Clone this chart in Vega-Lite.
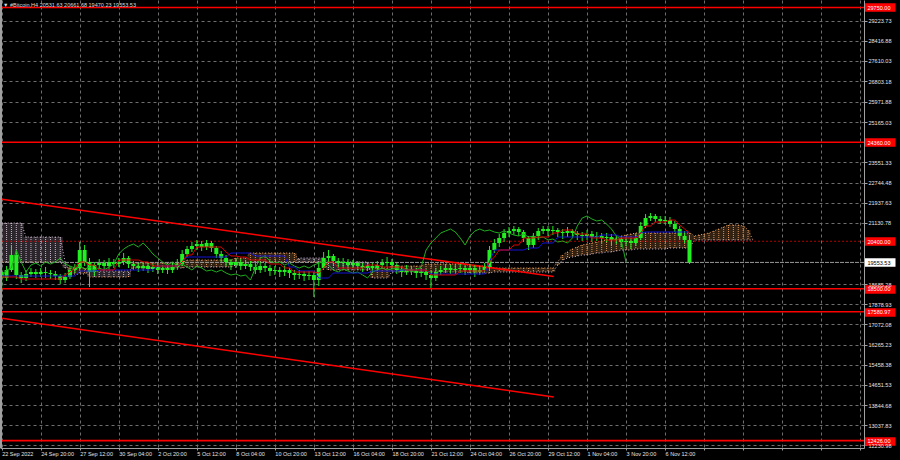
{
"$schema":"https://vega.github.io/schema/vega-lite/v6.json",
"width":900,"height":460,"autosize":{"type":"fit","contains":"padding"},
"padding":0,
"background":"#000000",
"config":{"view":{"stroke":null}},
"title":{"text":"▼ #Bitcoin,H4  20531.63 20661.68 19470.23 19553.53","anchor":"start","frame":"group","offset":-8,"fontSize":5.5,"font":"Liberation Sans","fontWeight":"normal","color":"#dcdcdc","dx":3},
"datasets":{
"rows":[
{"t":"2022-09-22T04:00","o":19170,"h":19330,"l":18450,"c":18930,"tk":18970,"kj":19010,"ch":18970,"a":19570,"b":21130},
{"t":"2022-09-22T12:00","o":18930,"h":19410,"l":18810,"c":19250,"tk":18970,"kj":19010,"ch":19250,"a":19570,"b":21130},
{"t":"2022-09-22T20:00","o":19250,"h":20250,"l":19170,"c":19850,"tk":18970,"kj":19010,"ch":19330,"a":19570,"b":21130},
{"t":"2022-09-23T04:00","o":19850,"h":19970,"l":18890,"c":19050,"tk":18970,"kj":19010,"ch":20050,"a":19570,"b":21130},
{"t":"2022-09-23T12:00","o":19050,"h":19170,"l":18730,"c":18930,"tk":18890,"kj":19010,"ch":19570,"a":19570,"b":21130},
{"t":"2022-09-23T20:00","o":18930,"h":19250,"l":18810,"c":19090,"tk":18890,"kj":19010,"ch":19170,"a":19570,"b":20570},
{"t":"2022-09-24T04:00","o":19090,"h":19330,"l":18970,"c":19170,"tk":18890,"kj":19010,"ch":19450,"a":19570,"b":20570},
{"t":"2022-09-24T12:00","o":19170,"h":19290,"l":18930,"c":19090,"tk":18890,"kj":19010,"ch":19530,"a":19570,"b":20570},
{"t":"2022-09-24T20:00","o":19090,"h":19330,"l":18970,"c":19170,"tk":18890,"kj":19010,"ch":19410,"a":19570,"b":20570},
{"t":"2022-09-25T04:00","o":19170,"h":19370,"l":18930,"c":19130,"tk":18890,"kj":19010,"ch":19570,"a":19570,"b":20570},
{"t":"2022-09-25T12:00","o":19130,"h":19250,"l":18890,"c":19090,"tk":18890,"kj":19010,"ch":19490,"a":19570,"b":20570},
{"t":"2022-09-25T20:00","o":19090,"h":19210,"l":18850,"c":19010,"tk":18890,"kj":19010,"ch":19570,"a":19570,"b":20570},
{"t":"2022-09-26T04:00","o":19010,"h":19090,"l":18690,"c":18850,"tk":18890,"kj":19010,"ch":19730,"a":19570,"b":20570},
{"t":"2022-09-26T12:00","o":18850,"h":19130,"l":18730,"c":18970,"tk":19050,"kj":19010,"ch":19490,"a":19330,"b":19570},
{"t":"2022-09-26T20:00","o":18970,"h":19410,"l":18890,"c":19250,"tk":19170,"kj":19010,"ch":19410,"a":19330,"b":19090},
{"t":"2022-09-27T04:00","o":19250,"h":19490,"l":19130,"c":19330,"tk":19330,"kj":19010,"ch":19330,"a":19330,"b":19090},
{"t":"2022-09-27T12:00","o":19330,"h":20370,"l":19250,"c":20050,"tk":19570,"kj":19210,"ch":19410,"a":19330,"b":19090},
{"t":"2022-09-27T20:00","o":20050,"h":20250,"l":19410,"c":19570,"tk":19570,"kj":19210,"ch":19290,"a":19330,"b":19090},
{"t":"2022-09-28T04:00","o":19570,"h":19730,"l":18570,"c":19170,"tk":19450,"kj":19210,"ch":19370,"a":18970,"b":19210},
{"t":"2022-09-28T12:00","o":19170,"h":19570,"l":19010,"c":19450,"tk":19450,"kj":19210,"ch":19250,"a":18970,"b":19210},
{"t":"2022-09-28T20:00","o":19450,"h":19690,"l":19290,"c":19530,"tk":19250,"kj":19250,"ch":19330,"a":18970,"b":19210},
{"t":"2022-09-29T04:00","o":19530,"h":19650,"l":19210,"c":19410,"tk":19250,"kj":19250,"ch":19250,"a":18970,"b":19210},
{"t":"2022-09-29T12:00","o":19410,"h":19730,"l":19250,"c":19570,"tk":19250,"kj":19250,"ch":19370,"a":18970,"b":19210},
{"t":"2022-09-29T20:00","o":19570,"h":19690,"l":19330,"c":19490,"tk":19250,"kj":19250,"ch":19490,"a":18970,"b":19210},
{"t":"2022-09-30T04:00","o":19490,"h":19730,"l":19370,"c":19570,"tk":19650,"kj":19250,"ch":19890,"a":18970,"b":19210},
{"t":"2022-09-30T12:00","o":19570,"h":19930,"l":19450,"c":19730,"tk":19650,"kj":19250,"ch":20090,"a":18970,"b":19210},
{"t":"2022-09-30T20:00","o":19730,"h":19810,"l":19330,"c":19490,"tk":19650,"kj":19250,"ch":20210,"a":18970,"b":19210},
{"t":"2022-10-01T04:00","o":19490,"h":19610,"l":19250,"c":19410,"tk":19650,"kj":19250,"ch":20290,"a":19530,"b":19330},
{"t":"2022-10-01T12:00","o":19410,"h":19530,"l":19170,"c":19330,"tk":19650,"kj":19250,"ch":20170,"a":19530,"b":19330},
{"t":"2022-10-01T20:00","o":19330,"h":19570,"l":19210,"c":19410,"tk":19570,"kj":19250,"ch":20330,"a":19530,"b":19330},
{"t":"2022-10-02T04:00","o":19410,"h":19530,"l":19130,"c":19290,"tk":19570,"kj":19250,"ch":20130,"a":19530,"b":19330},
{"t":"2022-10-02T12:00","o":19290,"h":19490,"l":19170,"c":19370,"tk":19410,"kj":19250,"ch":19890,"a":19530,"b":19330},
{"t":"2022-10-02T20:00","o":19370,"h":19490,"l":19090,"c":19250,"tk":19410,"kj":19410,"ch":19730,"a":19530,"b":19330},
{"t":"2022-10-03T04:00","o":19250,"h":19450,"l":19130,"c":19330,"tk":19410,"kj":19410,"ch":19570,"a":19530,"b":19330},
{"t":"2022-10-03T12:00","o":19330,"h":19450,"l":19090,"c":19250,"tk":19410,"kj":19410,"ch":19450,"a":19530,"b":19330},
{"t":"2022-10-03T20:00","o":19250,"h":19530,"l":19130,"c":19370,"tk":19410,"kj":19410,"ch":19570,"a":19530,"b":19330},
{"t":"2022-10-04T04:00","o":19370,"h":19690,"l":19250,"c":19490,"tk":19410,"kj":19410,"ch":19410,"a":19530,"b":19330},
{"t":"2022-10-04T12:00","o":19490,"h":20050,"l":19410,"c":19890,"tk":19570,"kj":19570,"ch":19490,"a":19530,"b":19330},
{"t":"2022-10-04T20:00","o":19890,"h":20210,"l":19770,"c":20090,"tk":19850,"kj":19770,"ch":19370,"a":19650,"b":19370},
{"t":"2022-10-05T04:00","o":20090,"h":20370,"l":19970,"c":20210,"tk":19850,"kj":19770,"ch":19250,"a":19650,"b":19370},
{"t":"2022-10-05T12:00","o":20210,"h":20450,"l":20050,"c":20290,"tk":20170,"kj":19770,"ch":19410,"a":19650,"b":19370},
{"t":"2022-10-05T20:00","o":20290,"h":20410,"l":20010,"c":20170,"tk":20170,"kj":19770,"ch":19330,"a":19650,"b":19370},
{"t":"2022-10-06T04:00","o":20170,"h":20450,"l":20050,"c":20330,"tk":20170,"kj":19770,"ch":19210,"a":19650,"b":19370},
{"t":"2022-10-06T12:00","o":20330,"h":20410,"l":19970,"c":20130,"tk":20170,"kj":19770,"ch":19250,"a":19650,"b":19370},
{"t":"2022-10-06T20:00","o":20130,"h":20210,"l":19730,"c":19890,"tk":20170,"kj":19770,"ch":19170,"a":19650,"b":19370},
{"t":"2022-10-07T04:00","o":19890,"h":20010,"l":19570,"c":19730,"tk":20170,"kj":19770,"ch":19250,"a":19650,"b":19370},
{"t":"2022-10-07T12:00","o":19730,"h":19850,"l":19410,"c":19570,"tk":19970,"kj":19770,"ch":19130,"a":19650,"b":19370},
{"t":"2022-10-07T20:00","o":19570,"h":19690,"l":19250,"c":19450,"tk":19810,"kj":19930,"ch":19050,"a":19650,"b":19370},
{"t":"2022-10-08T04:00","o":19450,"h":19730,"l":19330,"c":19570,"tk":19810,"kj":19930,"ch":19090,"a":19730,"b":19450},
{"t":"2022-10-08T12:00","o":19570,"h":19690,"l":19250,"c":19410,"tk":19770,"kj":19930,"ch":19010,"a":19730,"b":19450},
{"t":"2022-10-08T20:00","o":19410,"h":19650,"l":19290,"c":19490,"tk":19770,"kj":19930,"ch":19050,"a":19730,"b":19450},
{"t":"2022-10-09T04:00","o":19490,"h":19610,"l":19210,"c":19370,"tk":19650,"kj":19930,"ch":18850,"a":19930,"b":19570},
{"t":"2022-10-09T12:00","o":19370,"h":19530,"l":19090,"c":19250,"tk":19650,"kj":19810,"ch":19330,"a":19930,"b":19570},
{"t":"2022-10-09T20:00","o":19250,"h":19570,"l":19130,"c":19410,"tk":19650,"kj":19810,"ch":19730,"a":19930,"b":19570},
{"t":"2022-10-10T04:00","o":19410,"h":19530,"l":19170,"c":19330,"tk":19650,"kj":19810,"ch":19810,"a":19930,"b":19570},
{"t":"2022-10-10T12:00","o":19330,"h":19450,"l":19010,"c":19210,"tk":19490,"kj":19810,"ch":19610,"a":19930,"b":19570},
{"t":"2022-10-10T20:00","o":19210,"h":19410,"l":19050,"c":19250,"tk":19490,"kj":19810,"ch":19530,"a":19930,"b":19570},
{"t":"2022-10-11T04:00","o":19250,"h":19370,"l":18970,"c":19170,"tk":19490,"kj":19810,"ch":19570,"a":19930,"b":19570},
{"t":"2022-10-11T12:00","o":19170,"h":19410,"l":19010,"c":19250,"tk":19330,"kj":19810,"ch":19450,"a":19930,"b":19570},
{"t":"2022-10-11T20:00","o":19250,"h":19330,"l":18930,"c":19130,"tk":19330,"kj":19370,"ch":19530,"a":19930,"b":19570},
{"t":"2022-10-12T04:00","o":19130,"h":19250,"l":18850,"c":19050,"tk":19170,"kj":19370,"ch":19410,"a":19930,"b":19570},
{"t":"2022-10-12T12:00","o":19050,"h":19250,"l":18890,"c":19090,"tk":19170,"kj":19210,"ch":19330,"a":19570,"b":19730},
{"t":"2022-10-12T20:00","o":19090,"h":19210,"l":18810,"c":19010,"tk":19170,"kj":19210,"ch":19410,"a":19570,"b":19730},
{"t":"2022-10-13T04:00","o":19010,"h":19210,"l":18850,"c":19050,"tk":19170,"kj":19210,"ch":19330,"a":19570,"b":19730},
{"t":"2022-10-13T12:00","o":19050,"h":19170,"l":18170,"c":18850,"tk":19170,"kj":19210,"ch":19450,"a":19570,"b":19730},
{"t":"2022-10-13T20:00","o":18850,"h":19570,"l":18610,"c":19330,"tk":19130,"kj":18930,"ch":19530,"a":19570,"b":19730},
{"t":"2022-10-14T04:00","o":19330,"h":19970,"l":19250,"c":19730,"tk":19330,"kj":18930,"ch":19570,"a":19570,"b":19730},
{"t":"2022-10-14T12:00","o":19730,"h":20050,"l":19570,"c":19810,"tk":19570,"kj":18930,"ch":19450,"a":19250,"b":19570},
{"t":"2022-10-14T20:00","o":19810,"h":19890,"l":19450,"c":19610,"tk":19570,"kj":19130,"ch":19250,"a":19250,"b":19570},
{"t":"2022-10-15T04:00","o":19610,"h":19730,"l":19330,"c":19530,"tk":19330,"kj":19130,"ch":19170,"a":19250,"b":19570},
{"t":"2022-10-15T12:00","o":19530,"h":19730,"l":19370,"c":19570,"tk":19330,"kj":19130,"ch":19290,"a":19250,"b":19570},
{"t":"2022-10-15T20:00","o":19570,"h":19690,"l":19290,"c":19450,"tk":19330,"kj":19130,"ch":19210,"a":19250,"b":19570},
{"t":"2022-10-16T04:00","o":19450,"h":19650,"l":19330,"c":19530,"tk":19330,"kj":19130,"ch":19130,"a":19250,"b":19570},
{"t":"2022-10-16T12:00","o":19530,"h":19610,"l":19250,"c":19410,"tk":19330,"kj":19130,"ch":19170,"a":19250,"b":19570},
{"t":"2022-10-16T20:00","o":19410,"h":19530,"l":19170,"c":19330,"tk":19330,"kj":19130,"ch":19050,"a":19250,"b":19570},
{"t":"2022-10-17T04:00","o":19330,"h":19570,"l":19210,"c":19410,"tk":19450,"kj":19130,"ch":18930,"a":19250,"b":19570},
{"t":"2022-10-17T12:00","o":19410,"h":19530,"l":19170,"c":19330,"tk":19450,"kj":19210,"ch":19170,"a":19330,"b":18930},
{"t":"2022-10-17T20:00","o":19330,"h":19610,"l":19210,"c":19450,"tk":19450,"kj":19210,"ch":19250,"a":19330,"b":18930},
{"t":"2022-10-18T04:00","o":19450,"h":19690,"l":19330,"c":19530,"tk":19370,"kj":19210,"ch":19330,"a":19330,"b":18930},
{"t":"2022-10-18T12:00","o":19530,"h":19770,"l":19370,"c":19570,"tk":19370,"kj":19210,"ch":19250,"a":19330,"b":18930},
{"t":"2022-10-18T20:00","o":19570,"h":19690,"l":19290,"c":19450,"tk":19370,"kj":19210,"ch":19290,"a":19410,"b":19170},
{"t":"2022-10-19T04:00","o":19450,"h":19530,"l":19090,"c":19250,"tk":19370,"kj":19210,"ch":19330,"a":19410,"b":19170},
{"t":"2022-10-19T12:00","o":19250,"h":19370,"l":18970,"c":19170,"tk":19370,"kj":19250,"ch":19250,"a":19410,"b":19170},
{"t":"2022-10-19T20:00","o":19170,"h":19450,"l":19050,"c":19290,"tk":19250,"kj":19250,"ch":19330,"a":19410,"b":19170},
{"t":"2022-10-20T04:00","o":19290,"h":19410,"l":19050,"c":19210,"tk":19250,"kj":19250,"ch":19170,"a":19410,"b":19170},
{"t":"2022-10-20T12:00","o":19210,"h":19330,"l":18930,"c":19130,"tk":19250,"kj":19250,"ch":19250,"a":19410,"b":19170},
{"t":"2022-10-20T20:00","o":19130,"h":19330,"l":18970,"c":19170,"tk":19250,"kj":19250,"ch":19370,"a":19410,"b":19170},
{"t":"2022-10-21T04:00","o":19170,"h":19290,"l":18850,"c":19050,"tk":19250,"kj":19250,"ch":20050,"a":19490,"b":19170},
{"t":"2022-10-21T12:00","o":19050,"h":19210,"l":18530,"c":18930,"tk":19050,"kj":19090,"ch":20330,"a":19490,"b":19170},
{"t":"2022-10-21T20:00","o":18930,"h":19330,"l":18810,"c":19170,"tk":19050,"kj":19090,"ch":20530,"a":19490,"b":19170},
{"t":"2022-10-22T04:00","o":19170,"h":19410,"l":19050,"c":19250,"tk":19050,"kj":19090,"ch":20730,"a":19490,"b":19170},
{"t":"2022-10-22T12:00","o":19250,"h":19490,"l":19130,"c":19330,"tk":19050,"kj":19090,"ch":20810,"a":19490,"b":19170},
{"t":"2022-10-22T20:00","o":19330,"h":19450,"l":19090,"c":19250,"tk":19050,"kj":19090,"ch":20890,"a":19490,"b":19170},
{"t":"2022-10-23T04:00","o":19250,"h":19450,"l":19090,"c":19290,"tk":19050,"kj":19090,"ch":20770,"a":19490,"b":19170},
{"t":"2022-10-23T12:00","o":19290,"h":19490,"l":19130,"c":19330,"tk":19210,"kj":19090,"ch":20530,"a":19490,"b":19170},
{"t":"2022-10-23T20:00","o":19330,"h":19450,"l":19050,"c":19250,"tk":19210,"kj":19090,"ch":20250,"a":19490,"b":19170},
{"t":"2022-10-24T04:00","o":19250,"h":19490,"l":19130,"c":19330,"tk":19210,"kj":19090,"ch":20610,"a":19410,"b":19130},
{"t":"2022-10-24T12:00","o":19330,"h":19450,"l":18970,"c":19170,"tk":19210,"kj":19090,"ch":20810,"a":19410,"b":19130},
{"t":"2022-10-24T20:00","o":19170,"h":19410,"l":19050,"c":19250,"tk":19210,"kj":19090,"ch":20890,"a":19410,"b":19130},
{"t":"2022-10-25T04:00","o":19250,"h":19530,"l":19170,"c":19370,"tk":19210,"kj":19090,"ch":20810,"a":19410,"b":19130},
{"t":"2022-10-25T12:00","o":19370,"h":20210,"l":19250,"c":20050,"tk":19570,"kj":19570,"ch":20850,"a":19410,"b":19130},
{"t":"2022-10-25T20:00","o":20050,"h":20490,"l":19930,"c":20330,"tk":19770,"kj":20050,"ch":20770,"a":19330,"b":19170},
{"t":"2022-10-26T04:00","o":20330,"h":20690,"l":20170,"c":20530,"tk":20050,"kj":20050,"ch":20730,"a":19330,"b":19170},
{"t":"2022-10-26T12:00","o":20530,"h":20890,"l":20370,"c":20730,"tk":20050,"kj":20050,"ch":20810,"a":19330,"b":19170},
{"t":"2022-10-26T20:00","o":20730,"h":20970,"l":20570,"c":20810,"tk":20050,"kj":20050,"ch":20730,"a":19330,"b":19170},
{"t":"2022-10-27T04:00","o":20810,"h":21010,"l":20650,"c":20890,"tk":20250,"kj":20050,"ch":20650,"a":19330,"b":19170},
{"t":"2022-10-27T12:00","o":20890,"h":20970,"l":20610,"c":20770,"tk":20250,"kj":20050,"ch":20610,"a":19330,"b":19170},
{"t":"2022-10-27T20:00","o":20770,"h":20850,"l":20370,"c":20530,"tk":20530,"kj":20050,"ch":20690,"a":19330,"b":19170},
{"t":"2022-10-28T04:00","o":20530,"h":20610,"l":20050,"c":20250,"tk":20530,"kj":20130,"ch":20570,"a":19330,"b":19170},
{"t":"2022-10-28T12:00","o":20250,"h":20730,"l":20130,"c":20610,"tk":20530,"kj":20130,"ch":20610,"a":19330,"b":19170},
{"t":"2022-10-28T20:00","o":20610,"h":20930,"l":20450,"c":20810,"tk":20570,"kj":20130,"ch":20530,"a":19330,"b":19170},
{"t":"2022-10-29T04:00","o":20810,"h":21010,"l":20690,"c":20890,"tk":20570,"kj":20330,"ch":20570,"a":19330,"b":19170},
{"t":"2022-10-29T12:00","o":20890,"h":21010,"l":20610,"c":20810,"tk":20570,"kj":20330,"ch":20450,"a":19330,"b":19170},
{"t":"2022-10-29T20:00","o":20810,"h":21010,"l":20650,"c":20850,"tk":20730,"kj":20330,"ch":20490,"a":19330,"b":19170},
{"t":"2022-10-30T04:00","o":20850,"h":20930,"l":20570,"c":20770,"tk":20730,"kj":20570,"ch":20370,"a":19570,"b":19450},
{"t":"2022-10-30T12:00","o":20770,"h":20890,"l":20490,"c":20730,"tk":20850,"kj":20570,"ch":20410,"a":19850,"b":19650},
{"t":"2022-10-30T20:00","o":20730,"h":20970,"l":20570,"c":20810,"tk":20850,"kj":20570,"ch":20330,"a":19970,"b":19730},
{"t":"2022-10-31T04:00","o":20810,"h":20890,"l":20530,"c":20730,"tk":20850,"kj":20570,"ch":20530,"a":20090,"b":19770},
{"t":"2022-10-31T12:00","o":20730,"h":20810,"l":20450,"c":20650,"tk":20690,"kj":20570,"ch":21010,"a":20170,"b":19810},
{"t":"2022-10-31T20:00","o":20650,"h":20770,"l":20410,"c":20610,"tk":20690,"kj":20570,"ch":21330,"a":20250,"b":19850},
{"t":"2022-11-01T04:00","o":20610,"h":20850,"l":20450,"c":20690,"tk":20690,"kj":20570,"ch":21410,"a":20290,"b":19850},
{"t":"2022-11-01T12:00","o":20690,"h":20810,"l":20370,"c":20570,"tk":20530,"kj":20570,"ch":21290,"a":20330,"b":19890},
{"t":"2022-11-01T20:00","o":20570,"h":20770,"l":20410,"c":20610,"tk":20530,"kj":20570,"ch":21210,"a":20370,"b":19930},
{"t":"2022-11-02T04:00","o":20610,"h":20730,"l":20330,"c":20530,"tk":20530,"kj":20650,"ch":21250,"a":20410,"b":19930},
{"t":"2022-11-02T12:00","o":20530,"h":20730,"l":20370,"c":20570,"tk":20450,"kj":20650,"ch":21090,"a":20450,"b":19970},
{"t":"2022-11-02T20:00","o":20570,"h":20690,"l":20250,"c":20450,"tk":20450,"kj":20650,"ch":20890,"a":20490,"b":19970},
{"t":"2022-11-03T04:00","o":20450,"h":20650,"l":20290,"c":20490,"tk":20450,"kj":20650,"ch":20610,"a":20530,"b":20010},
{"t":"2022-11-03T12:00","o":20490,"h":20610,"l":20170,"c":20370,"tk":20530,"kj":20570,"ch":20450,"a":20610,"b":20050},
{"t":"2022-11-03T20:00","o":20370,"h":20570,"l":20210,"c":20410,"tk":20530,"kj":20570,"ch":19553.53,"a":20650,"b":20050},
{"t":"2022-11-04T04:00","o":20410,"h":20530,"l":20090,"c":20330,"tk":20530,"kj":20570,"a":20690,"b":20050},
{"t":"2022-11-04T12:00","o":20330,"h":20690,"l":20210,"c":20530,"tk":20530,"kj":20570,"a":20730,"b":20090},
{"t":"2022-11-04T20:00","o":20530,"h":21170,"l":20450,"c":21010,"tk":20730,"kj":20730,"a":20730,"b":20090},
{"t":"2022-11-05T04:00","o":21010,"h":21490,"l":20930,"c":21330,"tk":21010,"kj":20770,"a":20730,"b":20090},
{"t":"2022-11-05T12:00","o":21330,"h":21530,"l":21210,"c":21410,"tk":21010,"kj":20770,"a":20730,"b":20090},
{"t":"2022-11-05T20:00","o":21410,"h":21490,"l":21170,"c":21290,"tk":21170,"kj":20770,"a":20730,"b":20090},
{"t":"2022-11-06T04:00","o":21290,"h":21410,"l":21090,"c":21210,"tk":21170,"kj":20770,"a":20730,"b":20090},
{"t":"2022-11-06T12:00","o":21210,"h":21410,"l":21090,"c":21250,"tk":21170,"kj":20770,"a":20730,"b":20090},
{"t":"2022-11-06T20:00","o":21250,"h":21370,"l":20970,"c":21090,"tk":21250,"kj":20770,"a":20730,"b":20130},
{"t":"2022-11-07T04:00","o":21090,"h":21210,"l":20770,"c":20890,"tk":21250,"kj":20770,"a":20730,"b":20130},
{"t":"2022-11-07T12:00","o":20890,"h":21010,"l":20490,"c":20610,"tk":21050,"kj":20770,"a":20730,"b":20130},
{"t":"2022-11-07T20:00","o":20610,"h":20810,"l":20330,"c":20450,"tk":20890,"kj":20770,"a":20730,"b":20130},
{"t":"2022-11-08T04:00","o":20450,"h":20610,"l":19490,"c":19553.53,"tk":20730,"kj":20770,"a":20730,"b":20130},
{"t":"2022-11-08T12:00","a":20610,"b":20450},
{"t":"2022-11-08T20:00","a":20650,"b":20450},
{"t":"2022-11-09T04:00","a":20690,"b":20450},
{"t":"2022-11-09T12:00","a":20730,"b":20450},
{"t":"2022-11-09T20:00","a":20810,"b":20450},
{"t":"2022-11-10T04:00","a":20890,"b":20450},
{"t":"2022-11-10T12:00","a":20970,"b":20450},
{"t":"2022-11-10T20:00","a":21050,"b":20450},
{"t":"2022-11-11T04:00","a":21050,"b":20450},
{"t":"2022-11-11T12:00","a":21050,"b":20450},
{"t":"2022-11-11T20:00","a":21010,"b":20450},
{"t":"2022-11-12T04:00","a":20850,"b":20450},
{"t":"2022-11-12T12:00","a":20450,"b":20450}
],
"levels":[
{"v":29750,"k":"r"},
{"v":24360,"k":"r"},
{"v":20400,"k":"d"},
{"v":19553.53,"k":"w"},
{"v":18500,"k":"r"},
{"v":17580.97,"k":"r"},
{"v":12426,"k":"r"}
],
"trends":[
{"t":"2022-09-22T01:14","v":22090,"g":"upper"},
{"t":"2022-10-29T21:24","v":18990,"g":"upper"},
{"t":"2022-09-22T01:14","v":17330,"g":"lower"},
{"t":"2022-10-29T21:24","v":14170,"g":"lower"}
]
},
"data":{"name":"rows"},
"layer":[
{"mark":{"type":"bar","size":5,"opacity":0.2,"clip":true},
 "encoding":{
  "x":{"field":"t","type":"temporal",
   "scale":{"padding":0,"domain":[{"year":2022,"month":9,"date":22,"hours":1,"minutes":14},{"year":2022,"month":11,"date":20,"hours":2,"minutes":12}]},
   "axis":{"title":null,"tickCount":200,"values":[
    {"year":2022,"month":9,"date":22,"hours":4},{"year":2022,"month":9,"date":24,"hours":20},{"year":2022,"month":9,"date":27,"hours":12},
    {"year":2022,"month":9,"date":30,"hours":4},{"year":2022,"month":10,"date":2,"hours":20},{"year":2022,"month":10,"date":5,"hours":12},
    {"year":2022,"month":10,"date":8,"hours":4},{"year":2022,"month":10,"date":10,"hours":20},{"year":2022,"month":10,"date":13,"hours":12},
    {"year":2022,"month":10,"date":16,"hours":4},{"year":2022,"month":10,"date":18,"hours":20},{"year":2022,"month":10,"date":21,"hours":12},
    {"year":2022,"month":10,"date":24,"hours":4},{"year":2022,"month":10,"date":26,"hours":20},{"year":2022,"month":10,"date":29,"hours":12},
    {"year":2022,"month":11,"date":1,"hours":4},{"year":2022,"month":11,"date":3,"hours":20},{"year":2022,"month":11,"date":6,"hours":12},
    {"year":2022,"month":11,"date":9,"hours":4},{"year":2022,"month":11,"date":11,"hours":20},{"year":2022,"month":11,"date":14,"hours":12},
    {"year":2022,"month":11,"date":17,"hours":4},{"year":2022,"month":11,"date":19,"hours":20}],
    "labelExpr":"datum.value < datetime(2022,8,23) ? '22 Sep 2022' : (datum.value > datetime(2022,10,8) ? '' : timeFormat(datum.value, '%-d %b %H:%M'))",
    "grid":true,"gridColor":"#6e6e6e","gridDash":[3,3],"gridWidth":1,
    "domainColor":"#a0a0a0","tickColor":"#a0a0a0","tickSize":2,
    "labelColor":"#e4e4e4","labelFont":"Liberation Sans","labelFontSize":5.5,"labelAlign":"left","labelBaseline":"top","labelPadding":1,
    "labelOverlap":false,"labelFlush":false,"labelBound":false,"minExtent":12,"maxExtent":12}},
  "y":{"field":"a","type":"quantitative",
   "scale":{"domain":[12130,30050],"nice":false,"zero":false},
   "axis":{"orient":"right","title":null,"tickCount":200,
    "values":[29750,29223.73,28416.88,27610.03,26803.18,25971.88,25165.03,24360,23551.33,22744.48,21937.63,21130.78,20400,19553.53,18685.28,18500,17878.93,17580.97,17072.08,16265.23,15458.38,14651.53,13844.68,13037.83,12426,12230.98],
    "format":".2f","grid":true,"gridColor":"#6e6e6e","gridDash":[3,3],"gridWidth":1,
    "gridOpacity":{"condition":{"test":"indexof([29750,24360,20400,19553.53,18500,17580.97,12426], datum.value) >= 0","value":0},"value":1},
    "domainColor":"#a0a0a0",
    "tickColor":{"condition":[{"test":"datum.value == 19553.53","value":"#ffffff"},{"test":"indexof([29750,24360,20400,18500,17580.97,12426], datum.value) >= 0","value":"#ff0000"}],"value":"#a0a0a0"},
    "tickSize":{"condition":{"test":"indexof([29750,24360,20400,19553.53,18500,17580.97,12426], datum.value) >= 0","value":31},"value":3},
    "tickWidth":{"condition":{"test":"indexof([29750,24360,20400,19553.53,18500,17580.97,12426], datum.value) >= 0","value":8.5},"value":1},
    "labelPadding":{"condition":{"test":"indexof([29750,24360,20400,19553.53,18500,17580.97,12426], datum.value) >= 0","value":-28},"value":1},
    "labelColor":{"condition":[{"test":"datum.value == 19553.53","value":"#000000"},{"test":"indexof([29750,24360,20400,18500,17580.97,12426], datum.value) >= 0","value":"#ffffff"}],"value":"#e4e4e4"},
    "labelFont":"Liberation Sans","labelFontSize":5.5,"labelBaseline":"middle",
    "labelOverlap":false,"labelFlush":false,"labelBound":false,"minExtent":31,"maxExtent":31}},
  "y2":{"field":"b"},
  "color":{"condition":{"test":"datum.a > datum.b","value":"#f4a460"},"value":"#d8bfd8"}}},
{"mark":{"type":"rule","strokeDash":[1,1],"strokeWidth":1,"clip":true},
 "encoding":{"x":{"field":"t","type":"temporal"},"y":{"field":"a","type":"quantitative"},"y2":{"field":"b"},
  "color":{"condition":{"test":"datum.a > datum.b","value":"#d9935a"},"value":"#c8b4c8"}}},
{"mark":{"type":"line","strokeDash":[1,2],"strokeWidth":1,"color":"#f4a460","clip":true},
 "encoding":{"x":{"field":"t","type":"temporal"},"y":{"field":"a","type":"quantitative"}}},
{"mark":{"type":"line","strokeDash":[1,2],"strokeWidth":1,"color":"#d8bfd8","clip":true},
 "encoding":{"x":{"field":"t","type":"temporal"},"y":{"field":"b","type":"quantitative"}}},
{"data":{"name":"levels"},
 "mark":{"type":"rule","clip":true},
 "encoding":{"y":{"field":"v","type":"quantitative"},
  "color":{"condition":[{"test":"datum.k=='w'","value":"#9a9a9a"},{"test":"datum.k=='d'","value":"#b40000"}],"value":"#ff0000"},
  "strokeDash":{"condition":[{"test":"datum.k=='w'","value":[4,1]},{"test":"datum.k=='d'","value":[2,2]}],"value":[1,0]},
  "strokeWidth":{"condition":{"test":"datum.k=='r'","value":1.6},"value":1}}},
{"data":{"name":"trends"},
 "mark":{"type":"line","color":"#ff0000","strokeWidth":1.5,"clip":true},
 "encoding":{"x":{"field":"t","type":"temporal"},"y":{"field":"v","type":"quantitative"},"detail":{"field":"g"}}},
{"transform":[{"filter":"isValid(datum.c)"}],
 "mark":{"type":"rule","color":"#22ee22","strokeWidth":1,"clip":true},
 "encoding":{"x":{"field":"t","type":"temporal"},"y":{"field":"l","type":"quantitative"},"y2":{"field":"h"}}},
{"transform":[{"filter":"isValid(datum.c)"}],
 "mark":{"type":"bar","size":4,"color":"#22ee22","clip":true},
 "encoding":{"x":{"field":"t","type":"temporal"},"y":{"field":"o","type":"quantitative"},"y2":{"field":"c"}}},
{"transform":[{"filter":"isValid(datum.ch)"}],
 "mark":{"type":"line","color":"#1fae1f","strokeWidth":1,"clip":true},
 "encoding":{"x":{"field":"t","type":"temporal"},"y":{"field":"ch","type":"quantitative"}}},
{"transform":[{"filter":"isValid(datum.kj)"}],
 "mark":{"type":"line","color":"#1414d8","strokeWidth":1,"clip":true},
 "encoding":{"x":{"field":"t","type":"temporal"},"y":{"field":"kj","type":"quantitative"}}},
{"transform":[{"filter":"isValid(datum.tk)"}],
 "mark":{"type":"line","color":"#dd0000","strokeWidth":1,"clip":true},
 "encoding":{"x":{"field":"t","type":"temporal"},"y":{"field":"tk","type":"quantitative"}}},
{"mark":{"type":"rule","color":"#a0a0a0","strokeWidth":1,"clip":true},
 "encoding":{"x":{"datum":{"year":2022,"month":9,"date":22,"hours":3},"type":"temporal"}}}
]
}
